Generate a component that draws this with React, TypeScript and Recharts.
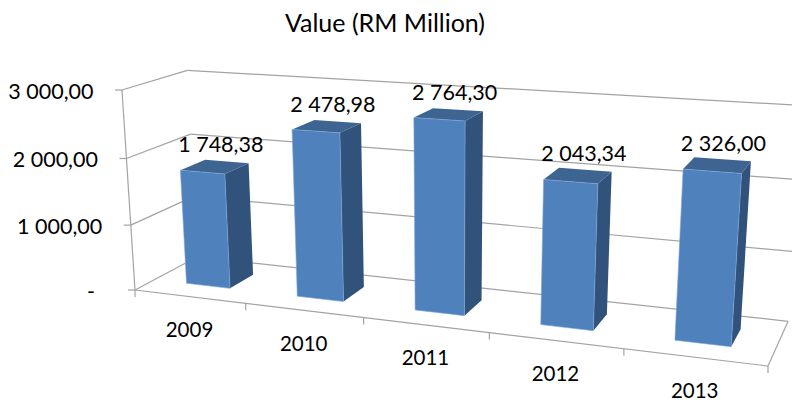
import React from "react";
import { BarChart, Bar, XAxis, YAxis, CartesianGrid, LabelList } from "recharts";

const years = ["2009", "2010", "2011", "2012", "2013"];
const values = [1748.38, 2478.98, 2764.3, 2043.34, 2326.0];
const yTicks = [0, 1000, 2000, 3000];
const chartData = years.map((year, i) => ({ year, value: values[i] }));

const FONT = "Lato, 'Open Sans', sans-serif";
const GRID = "#a3a3a3";

// flat plot rectangle the library lays out, later pushed through the projection
const PLOT = { left: 100, top: 50, width: 600, height: 300 };
const DEPTH_FRONT = 0.3;
const DEPTH_BACK = 0.7;

// corners of the 3D box on screen and their perspective weights
const P0 = [135, 290];
const PU = [768, 366];
const PV = [122, 90];
const PW = [197, 257];
const WU = 0.848;
const WV = 0.96;
const WW = 1.076;

const project = (u: number, v: number, w: number) => {
  const d = 1 + u * (WU - 1) + v * (WV - 1) + w * (WW - 1);
  const at = (k: number) =>
    (P0[k] + u * (WU * PU[k] - P0[k]) + v * (WV * PV[k] - P0[k]) + w * (WW * PW[k] - P0[k])) / d;
  return [at(0), at(1)];
};

const toU = (x: number) => (x - PLOT.left) / PLOT.width;
const toV = (y: number) => 1 - (y - PLOT.top) / PLOT.height;
const poly = (pts: number[][]) => pts.map((p) => p.join(",")).join(" ");

const Seg = ({ a, b }: { a: number[]; b: number[] }) => (
  <line x1={a[0]} y1={a[1]} x2={b[0]} y2={b[1]} stroke={GRID} strokeWidth={1.2} />
);

const formatValue = (n: number) => {
  if (n === 0) return "-";
  const [whole, dec] = n.toFixed(2).split(".");
  return whole.replace(/\B(?=(\d{3})+$)/g, " ") + "," + dec;
};

// one level of the wall: side wall + back wall, floor edges at level 0
const GridLevel = (props: any) => {
  const v = toV(props.y1);
  const isFloor = v < 0.001;
  return (
    <g>
      <Seg a={project(0, v, 0)} b={project(0, v, 1)} />
      <Seg a={project(0, v, 1)} b={project(1, v, 1)} />
      {isFloor && (
        <>
          <Seg a={project(0, 0, 0)} b={project(1, 0, 0)} />
          <Seg a={project(1, 0, 0)} b={project(1, 0, 1)} />
          <Seg a={project(0, 0, 0)} b={project(0, 1, 0)} />
        </>
      )}
    </g>
  );
};

const YTick = (props: any) => {
  const v = toV(props.y);
  const [px, py] = project(0, v, 0);
  const val = props.payload.value;
  return (
    <g>
      <line x1={px - 7} y1={py} x2={px} y2={py} stroke={GRID} strokeWidth={1.2} />
      <text
        x={val === 0 ? px - 40 : px - 28.5}
        y={py + 1}
        textAnchor="end"
        dominantBaseline="central"
        fontFamily={FONT}
        fontSize={21.5}
        fill="#000"
      >
        {formatValue(val)}
      </text>
    </g>
  );
};

const XTick = (props: any) => {
  const u = toU(props.x);
  const band = 1 / years.length;
  const [px, py] = project(u, 0, 0);
  const edges = props.index === 0 ? [u - band / 2, u + band / 2] : [u + band / 2];
  return (
    <g>
      {edges.map((e) => {
        const [ex, ey] = project(e, 0, 0);
        return <line key={e} x1={ex} y1={ey} x2={ex} y2={ey + 7} stroke={GRID} strokeWidth={1.2} />;
      })}
      <text
        x={px}
        y={py + 32.5}
        textAnchor="middle"
        dominantBaseline="central"
        fontFamily={FONT}
        fontSize={20.5}
        fill="#000"
      >
        {props.payload.value}
      </text>
    </g>
  );
};

const Bar3D = (props: any) => {
  const { x, y, width } = props;
  const u0 = toU(x);
  const u1 = toU(x + width);
  const v = toV(y);
  const f = DEPTH_FRONT;
  const b = DEPTH_BACK;
  return (
    <g>
      <polygon
        points={poly([project(u1, 0, f), project(u1, 0, b), project(u1, v, b), project(u1, v, f)])}
        fill="#31527b"
      />
      <polygon
        points={poly([project(u0, v, f), project(u1, v, f), project(u1, v, b), project(u0, v, b)])}
        fill="#3e6491"
      />
      <polygon
        points={poly([project(u0, 0, f), project(u1, 0, f), project(u1, v, f), project(u0, v, f)])}
        fill="#4f81bd"
        stroke="#7fa6d8"
        strokeWidth={0.6}
      />
    </g>
  );
};

const BarValue = (props: any) => {
  const { x, y, width, value } = props;
  const [px, py] = project(toU(x + width / 2), toV(y), 0.5);
  return (
    <text
      x={px + 6}
      y={py - 22.5}
      textAnchor="middle"
      dominantBaseline="central"
      fontFamily={FONT}
      fontSize={21.5}
      fill="#000"
    >
      {formatValue(value)}
    </text>
  );
};

export default function App() {
  return (
    <div style={{ position: "absolute", left: 0, top: 0, width: 792, height: 402, background: "#fff" }}>
      <BarChart
        width={792}
        height={402}
        data={chartData}
        barCategoryGap="30%"
        margin={{ top: PLOT.top, left: PLOT.left - 40, right: 792 - PLOT.left - PLOT.width, bottom: 22 }}
      >
        <CartesianGrid vertical={false} horizontal={(p: any) => <GridLevel key={p.index} {...p} />} />
        <XAxis dataKey="year" height={30} axisLine={false} tickLine={false} tick={<XTick />} interval={0} />
        <YAxis
          width={40}
          domain={[0, 3000]}
          ticks={yTicks}
          axisLine={false}
          tickLine={false}
          tick={<YTick />}
          interval={0}
        />
        <Bar dataKey="value" isAnimationActive={false} shape={<Bar3D />}>
          <LabelList dataKey="value" content={<BarValue />} />
        </Bar>
        <text
          x={385}
          y={22}
          textAnchor="middle"
          dominantBaseline="central"
          fontFamily={FONT}
          fontSize={25}
          fill="#000"
        >
          Value (RM Million)
        </text>
      </BarChart>
    </div>
  );
}
